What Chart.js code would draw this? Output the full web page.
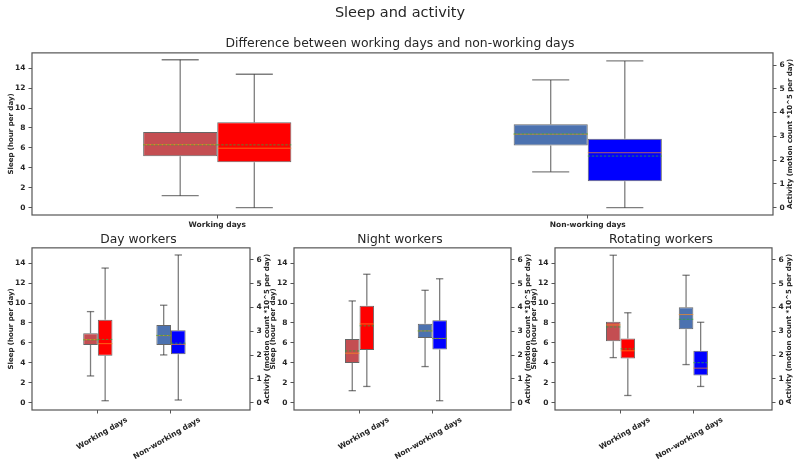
<!DOCTYPE html>
<html>
<head>
<meta charset="utf-8">
<script src="https://cdn.jsdelivr.net/npm/chart.js@4/dist/chart.umd.min.js"></script>
<style>
  body { margin:0; background:#fff; }
  #wrap { position:relative; width:800px; height:466px; }
  canvas { position:absolute; }
</style>
</head>
<body>
<div id="wrap">
  <canvas id="chAll" width="800" height="235" style="left:0;top:0"></canvas>
  <canvas id="chDay" width="277" height="241" style="left:0;top:225px"></canvas>
  <canvas id="chNight" width="276" height="241" style="left:262px;top:225px"></canvas>
  <canvas id="chRot" width="276" height="241" style="left:523px;top:225px"></canvas>
</div>
<script>
const categories = ['Working days', 'Non-working days'];
const sleepTicks = [0, 2, 4, 6, 8, 10, 12, 14];
const activityTicks = [0, 1, 2, 3, 4, 5, 6];

// each row: [low whisker, Q1, median, mean, Q3, high whisker]
const allSleep      = [[1.2, 5.15, 6.33, 6.3, 7.6, 14.85], [3.6, 6.23, 7.37, 7.4, 8.38, 12.82]];
const allActivity   = [[0, 1.91, 2.5, 2.64, 3.59, 5.61], [0, 1.11, 2.31, 2.17, 2.9, 6.17]];
const daySleep      = [[2.68, 5.79, 6.33, 6.3, 6.97, 9.14], [4.79, 5.79, 6.73, 6.75, 7.8, 9.78]];
const dayActivity   = [[0.08, 1.97, 2.48, 2.66, 3.49, 5.66], [0.11, 2.04, 2.45, 2.5, 3.04, 6.21]];
const nightSleep    = [[1.2, 3.99, 4.96, 5.19, 6.4, 10.21], [3.62, 6.5, 7.2, 7.2, 7.93, 11.28]];
const nightActivity = [[0.68, 2.21, 3.31, 3.23, 4.07, 5.4], [0.08, 2.23, 2.7, 2.7, 3.46, 5.21]];
const rotSleep      = [[4.52, 6.16, 7.8, 7.6, 8.13, 14.8], [3.82, 7.37, 8.84, 8.37, 9.58, 12.79]];
const rotActivity   = [[0.3, 1.86, 2.18, 2.26, 2.7, 3.78], [0.68, 1.14, 1.45, 1.68, 2.18, 3.38]];

const sleepColors = ['#c44e52', '#4c72b0'];
const activityColors = ['#ff0000', '#0000ff'];

const FONT = 'DejaVu Sans';
const TXT = '#262626';

// whiskers, caps, median and mean lines
const boxWhiskers = {
  id: 'boxWhiskers',
  afterDatasetsDraw(chart){
    const ctx = chart.ctx;
    const seg = (x1,y1,x2,y2)=>{ ctx.beginPath(); ctx.moveTo(x1,y1); ctx.lineTo(x2,y2); ctx.stroke(); };
    chart.data.datasets.forEach((ds, d)=>{
      const ys = chart.scales[ds.yAxisID];
      chart.getDatasetMeta(d).data.forEach((bar, i)=>{
        const [lo, q1, med, mean, q3, hi] = ds.stats[i].map(v=>ys.getPixelForValue(v));
        const x = bar.x, hw = bar.width/2;
        ctx.save();
        ctx.strokeStyle = 'rgba(40,40,40,0.6)';
        ctx.lineWidth = 1.3;
        seg(x, lo, x, q1); seg(x, q3, x, hi);
        seg(x-hw/2, lo, x+hw/2, lo); seg(x-hw/2, hi, x+hw/2, hi);
        ctx.lineWidth = 1;
        ctx.strokeStyle = 'rgba(255,140,30,0.7)';
        seg(x-hw, med, x+hw, med);
        ctx.setLineDash([2.5, 1.5]);
        ctx.strokeStyle = 'rgba(44,170,60,0.75)';
        seg(x-hw, mean, x+hw, mean);
        ctx.restore();
      });
    });
  }
};

const frame = {
  id: 'frame',
  afterDatasetsDraw(chart){
    const {ctx, chartArea:a} = chart;
    ctx.save();
    ctx.strokeStyle = '#555';
    ctx.lineWidth = 1.2;
    ctx.strokeRect(a.left, a.top, a.right-a.left, a.bottom-a.top);
    ctx.restore();
  }
};

// right axis label reads bottom-to-top like the left one
const rightTitle = {
  id: 'rightTitle',
  afterDraw(chart, args, opts){
    const {ctx, chartArea:a} = chart;
    ctx.save();
    ctx.translate(a.right + 17, (a.top + a.bottom)/2);
    ctx.rotate(-Math.PI/2);
    ctx.font = 'bold 7px "' + FONT + '"';
    ctx.fillStyle = TXT;
    ctx.textAlign = 'center';
    ctx.textBaseline = 'middle';
    ctx.fillText(opts.text, 0, 0);
    ctx.restore();
  }
};

function tickFont(){ return { family: FONT, size: 7.5, weight: 'bold' }; }
function gridOpts(){ return { drawOnChartArea:false, drawTicks:true, tickLength:3.5, tickColor:'#555', tickWidth:1, offset:false }; }

function makeChart(id, sleep, activity, o){
  return new Chart(document.getElementById(id), {
    type: 'bar',
    data: {
      datasets: [
        { label:'Sleep', yAxisID:'y', stats: sleep,
          data: sleep.map((s,i)=>({ x:i+1, y:[s[1], s[4]] })),
          backgroundColor: sleepColors },
        { label:'Activity', yAxisID:'y1', stats: activity,
          data: activity.map((s,i)=>({ x:i+1, y:[s[1], s[4]] })),
          backgroundColor: activityColors }
      ]
    },
    options: {
      responsive: false,
      animation: false,
      devicePixelRatio: 1,
      layout: { padding: 0 },
      datasets: { bar: { categoryPercentage:0.4, barPercentage:1, borderColor:'rgba(0,0,0,0.6)', borderWidth:1, borderSkipped:false } },
      plugins: {
        legend: { display:false },
        tooltip: { enabled:false },
        title: { display:true, text:o.title, color:TXT, font:{ family:FONT, size:o.titleSize, weight:'normal' }, padding:o.titlePad },
        subtitle: o.subtitle ? { display:true, text:o.subtitle, color:TXT, font:{ family:FONT, size:12.4, weight:'normal' }, padding:{ top:0, bottom:2 } } : { display:false },
        rightTitle: { text:'Activity (motion count *10^5 per day)' }
      },
      scales: {
        x: {
          type:'linear', position:'bottom', min:o.xmin, max:o.xmax, offset:false,
          grid: gridOpts(), border:{ display:false },
          afterBuildTicks: s => { s.ticks = categories.map((c,i)=>({ value:i+1 })); },
          afterFit: s => { s.height = o.xHeight; },
          ticks: { font:tickFont(), color:TXT, padding:2, autoSkip:false,
                   minRotation:o.rot, maxRotation:o.rot, labelOffset:o.labelOffset,
                   callback: (v,i)=>categories[i] }
        },
        y: {
          position:'left', min:-0.74, max:15.54,
          grid: gridOpts(), border:{ display:false },
          afterBuildTicks: s => { s.ticks = sleepTicks.map(v=>({ value:v })); },
          afterFit: s => { s.width = 32; },
          ticks: { font:tickFont(), color:TXT, padding:3 },
          title: { display:true, text:'Sleep (hour per day)', color:TXT, font:{ family:FONT, size:7, weight:'bold' }, padding:{ top:6.8, bottom:0 } }
        },
        y1: {
          position:'right', min:-0.31, max:6.51,
          grid: gridOpts(), border:{ display:false },
          afterBuildTicks: s => { s.ticks = activityTicks.map(v=>({ value:v })); },
          afterFit: s => { s.width = 27; },
          ticks: { font:tickFont(), color:TXT, padding:3 }
        }
      }
    },
    plugins: [boxWhiskers, frame, rightTitle]
  });
}

makeChart('chAll', allSleep, allActivity, {
  title:'Sleep and activity', titleSize:14.5, titlePad:{ top:4.6, bottom:14 },
  subtitle:'Difference between working days and non-working days',
  xmin:0.5, xmax:2.5, xHeight:20, rot:0, labelOffset:0
});
const sub = { titleSize:12.3, titlePad:{ top:7.6, bottom:0.5 }, xmin:0.1, xmax:3.08, xHeight:56, rot:30, labelOffset:29 };
makeChart('chDay', daySleep, dayActivity, Object.assign({ title:'Day workers' }, sub));
makeChart('chNight', nightSleep, nightActivity, Object.assign({ title:'Night workers' }, sub));
makeChart('chRot', rotSleep, rotActivity, Object.assign({ title:'Rotating workers' }, sub));
</script>
</body>
</html>
